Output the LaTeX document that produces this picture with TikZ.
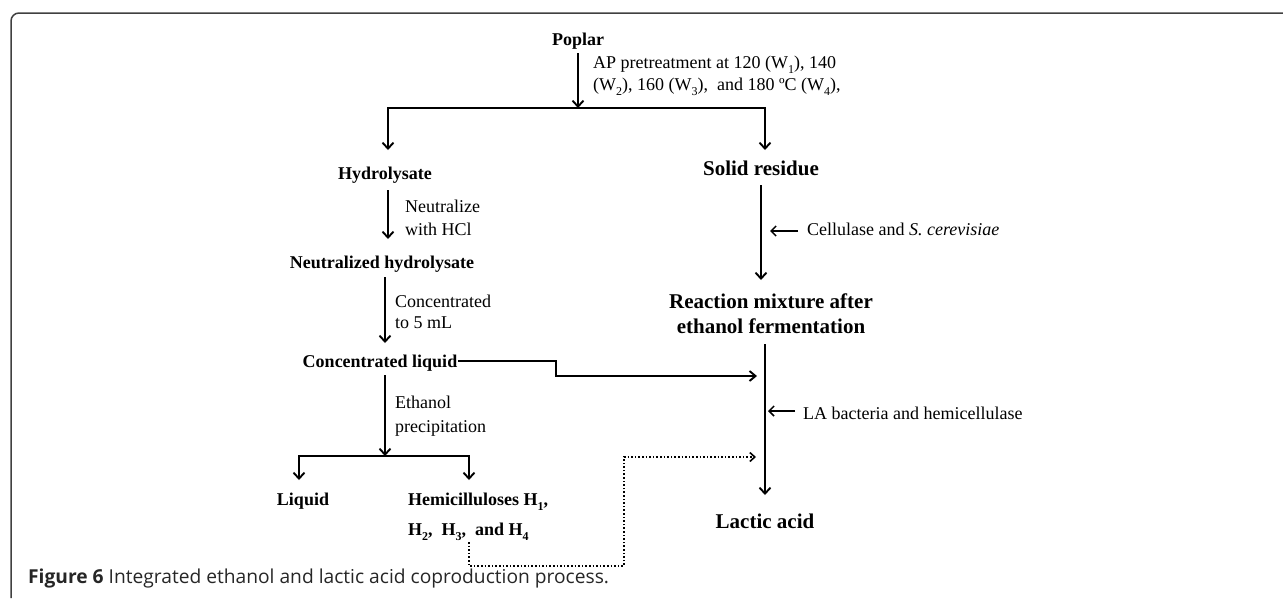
\documentclass[tikz,border=0pt]{standalone}
\usepackage{fontspec}
\setmainfont{Liberation Serif}
\newfontfamily\capfont{Open Sans}
\usepackage{tikz}
\usetikzlibrary{positioning, arrows.meta, calc}
\newcommand\lowidx[1]{\raisebox{-0.28em}{\fontsize{12}{12}\selectfont #1}}

\begin{document}
\begin{tikzpicture}[
        x=1pt, y=-1pt,
        stage/.style  = {inner sep=0pt, anchor=base, font=\bfseries\fontsize{18}{22}\selectfont},
        bigstage/.style = {inner sep=0pt, anchor=base, font=\bfseries\fontsize{21}{25}\selectfont},
        lbl/.style    = {inner sep=0pt, anchor=base west, font=\fontsize{18}{22}\selectfont},
        arrow/.style  = {-{Straight Barb[length=6pt,width=11pt]}, line width=1.9pt},
        thin arrow/.style = {-{Straight Barb[length=5pt,width=10pt]}, line width=1.5pt},
        feed/.style   = {-{Straight Barb[length=5pt,width=9pt]}, line width=1.6pt, dotted},
        frame/.style  = {line width=1.5pt, black!75, rounded corners=8pt},
    ]
        \useasboundingbox (0,0) rectangle (1283,598);
        \draw[frame] (11,598) -- (11,13) -- (1283,13);

        \node[stage] (poplar) at (578,45) {Poplar};
        \node[lbl] (ap1) at (593,68) {AP pretreatment at 120 (W\lowidx{1}), 140};
        \node[lbl] (ap2) at (593,90) {(W\lowidx{2}), 160 (W\lowidx{3}),~ and 180 ºC (W\lowidx{4}),};

        \node[stage] (hydro) at (385,179) {Hydrolysate};
        \node[lbl] (neut1) at (405,212) {Neutralize};
        \node[lbl] (neut2) at (405,235) {with HCl};
        \node[stage] (neutral) at (382,268) {Neutralized hydrolysate};
        \node[lbl] (conc1) at (395,307) {Concentrated};
        \node[lbl] (conc2) at (395,328) {to 5 mL};
        \node[stage] (concliq) at (380,367) {Concentrated liquid};
        \node[lbl] (eth1) at (395,408) {Ethanol};
        \node[lbl] (eth2) at (395,432) {precipitation};
        \node[stage] (liquid) at (303,505) {Liquid};
        \node[stage, anchor=base west] (hemi1) at (408,505) {Hemicilluloses H\lowidx{1},};
        \node[stage, anchor=base west] (hemi2) at (408,535) {H\lowidx{2},~~H\lowidx{3},~~and H\lowidx{4}};

        \node[bigstage] (solid) at (761,175) {Solid residue};
        \node[lbl] (cell) at (807,235) {Cellulase and \textit{S. cerevisiae}};
        \node[bigstage] (react1) at (771,308) {Reaction mixture after};
        \node[bigstage] (react2) at (771,333) {ethanol fermentation};
        \node[lbl] (labac) at (803,419) {LA bacteria and hemicellulase};
        \node[bigstage] (lactic) at (765,528) {Lactic acid};

        \coordinate (split) at (578,108);
        \coordinate (split2) at (385,456);

        \draw[arrow] (poplar.south |- 0,53) -- (split);
        \draw[arrow] (split) -| (388,150);
        \draw[arrow] (split) -| (765,150);
        \draw[arrow] (388,190) -- (388,239);
        \draw[arrow] (385,277) -- (385,343);
        \draw[arrow] (385,375) -- (split2);
        \draw[arrow] (split2) -| (299,480);
        \draw[arrow] (split2) -| (469,480);
        \draw[arrow] (761,185) -- (761,280);
        \draw[thin arrow] (cell.west |- 0,231) ++(-9,0) -- ++(-28,0);
        \draw[arrow] (765,344) -- (765,495);
        \draw[thin arrow] (labac.west |- 0,411) ++(-8,0) -- ++(-27,0);
        \draw[arrow, -{Straight Barb[length=6pt,width=10pt]}] ([xshift=1pt]concliq.east |- 0,361) -- (556,361) -- (556,376) -- (757,376);
        \draw[feed] (469,542) -- (469,566) -- (624,566) -- (624,457) -- (756,457);

        \node[inner sep=0pt, anchor=base west, text=black!85, font=\capfont\fontsize{19.2}{22}\selectfont] (caption) at (28,583)
            {\textbf{Figure 6} Integrated ethanol and lactic acid coproduction process.};
    \end{tikzpicture}
\end{document}
